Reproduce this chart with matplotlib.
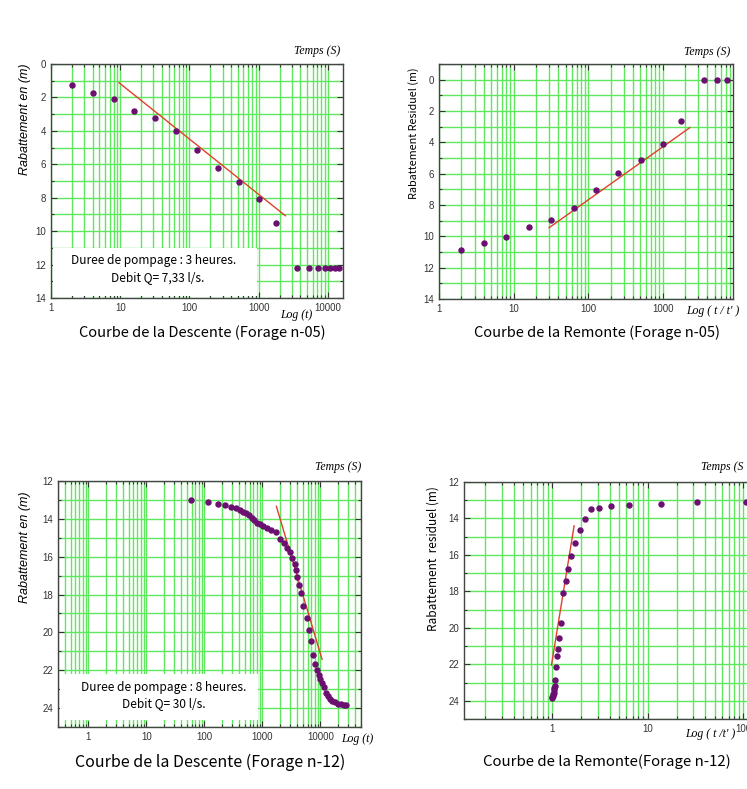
import numpy as np
import matplotlib
matplotlib.use("Agg")
import matplotlib.pyplot as plt
from matplotlib.ticker import LogLocator, FixedLocator, NullFormatter, FuncFormatter, MultipleLocator
from matplotlib.patches import Rectangle

# ---------------- data ----------------
# Panel 1 : Descente forage n-05
t1 = [2, 4, 8, 16, 32, 64, 128, 256, 512, 1024, 1800, 3600, 5400, 7200, 9000, 10800, 12600, 14400]
s1 = [1.25, 1.73, 2.11, 2.79, 3.23, 3.98, 5.14, 6.21, 7.05, 8.07, 9.52, 12.23, 12.23, 12.23, 12.23, 12.23, 12.23, 12.23]
fit1_t = [9.6, 2430]
fit1_s = [1.12, 9.08]

# Panel 2 : Remontee forage n-05
t2 = [2, 4, 8, 16, 32, 64, 128, 256, 512, 1000, 1780, 3600, 5400, 7200]
s2 = [10.89, 10.43, 10.06, 9.38, 8.94, 8.19, 7.04, 5.98, 5.15, 4.11, 2.66, 0.0, 0.0, 0.0]
fit2_t = [30, 2320]
fit2_s = [9.45, 3.06]

# Panel 3 : Descente forage n-12
t3 = [58, 116, 175, 231, 286, 344, 408, 465, 531, 598, 656, 719, 811, 912, 1028, 1203,
      1410, 1740, 2040, 2360, 2660, 2960, 3290, 3600, 3750, 4010, 4340, 4630, 5090,
      5800, 6370, 6890, 7570, 8200, 8750, 9330, 9710, 10470, 11380, 12300, 13330,
      14440, 15850, 17600, 19800, 22300, 25100, 28000]
s3 = [12.99, 13.13, 13.2, 13.29, 13.37, 13.45, 13.52, 13.62, 13.71, 13.82, 13.94, 14.08,
      14.2, 14.29, 14.36, 14.5, 14.61, 14.72, 15.07, 15.26, 15.53, 15.77, 16.09, 16.4,
      16.72, 17.07, 17.5, 17.93, 18.6, 19.23, 19.87, 20.43, 21.17, 21.66, 21.98, 22.23,
      22.44, 22.65, 22.9, 23.18, 23.36, 23.5, 23.6, 23.69, 23.76, 23.8, 23.82, 23.82]
fit3_t = [1740, 10660]
fit3_s = [13.34, 21.42]

# Panel 4 : Remontee forage n-12
t4 = [107, 33, 13.9, 6.38, 4.14, 3.07, 2.58, 2.21, 1.945, 1.74, 1.57, 1.48, 1.39, 1.31,
      1.24, 1.18, 1.155, 1.13, 1.11, 1.08, 1.066, 1.055, 1.045, 1.035, 1.025, 1.015, 1.005, 1.0]
s4 = [13.1, 13.1, 13.2, 13.24, 13.33, 13.41, 13.5, 14.04, 14.65, 15.32, 16.07, 16.78,
      17.42, 18.1, 19.72, 20.58, 21.15, 21.55, 22.15, 22.84, 23.19, 23.28, 23.42, 23.55,
      23.64, 23.72, 23.8, 23.86]
fit4_t = [0.985, 1.70]
fit4_s = [22.05, 14.4]

titles = ["Courbe de la Descente (Forage n-05)", "Courbe de la Remonte (Forage n-05)",
          "Courbe de la Descente (Forage n-12)", "Courbe de la Remonte(Forage n-12)"]
ylabels = ["Rabattement en (m)", "Rabattement Residuel (m)",
           "Rabattement en (m)", "Rabattement  residuel (m)"]
xnotes = ["Log (t)", "Log ( t / t' )", "Log (t)", "Log ( t /t' )"]
box1 = ["Duree de pompage : 3 heures.", "Debit Q= 7,33 l/s."]
box3 = ["Duree de pompage : 8 heures.", "Debit Q= 30 l/s."]

# ---------------- style ----------------
W, H = 747, 789
fig = plt.figure(figsize=(W / 100, H / 100), dpi=100)
GRID = "#5fe85f"
DOT = "#6b0f70"
RED = "#e0402a"
CJK = ["Noto Sans CJK JP", "DejaVu Sans"]
SERIF = "Liberation Serif"


def px_axes(l, t, r, b):
    return fig.add_axes([l / W, 1 - b / H, (r - l) / W, (b - t) / H])


def setup(ax, xlim, ylim, xmajor, ymajor_step=2):
    ax.set_xscale("log")
    ax.set_xlim(*xlim)
    ax.set_ylim(*ylim)
    ax.xaxis.set_major_locator(FixedLocator(xmajor))
    ax.xaxis.set_minor_locator(LogLocator(base=10, subs=np.arange(2, 10), numticks=20))
    ax.xaxis.set_major_formatter(FuncFormatter(lambda v, p: "%g" % v))
    ax.xaxis.set_minor_formatter(NullFormatter())
    ax.yaxis.set_major_locator(MultipleLocator(ymajor_step))
    ax.yaxis.set_minor_locator(MultipleLocator(1))
    ax.grid(True, which="both", axis="both", color=GRID, lw=1.0)
    ax.set_axisbelow(True)
    ax.tick_params(which="both", direction="in", top=True, right=True,
                   labelsize=7, colors="#333333", labelcolor="#333333")
    ax.tick_params(which="major", length=4, width=0.8)
    ax.tick_params(which="minor", length=2.5, width=0.8)
    for sp in ax.spines.values():
        sp.set_color("#444444")
        sp.set_linewidth(1.0)
    for lab in ax.get_xticklabels() + ax.get_yticklabels():
        lab.set_family("Liberation Sans")


def textbox(ax, x0, x1, y0, y1, lines, xc, yc):
    ax.add_patch(Rectangle((x0, y0), x1 - x0, y1 - y0, facecolor="white",
                           edgecolor="none", zorder=1))
    for s, x, y in zip(lines, xc, yc):
        ax.text(x, y, s, ha="center", va="center", fontsize=8.6,
                family=CJK, zorder=3)


MS = 3.6

# ---- Panel 1
ax1 = px_axes(51, 64, 343, 298)
setup(ax1, (1, 16500), (14, 0), [1, 10, 100, 1000, 10000])
ax1.plot(fit1_t, fit1_s, color=RED, lw=1.0, zorder=2)
ax1.plot(t1, s1, "o", color=DOT, ms=MS, zorder=3)
textbox(ax1, 1.08, 950, 11.0, 13.9, box1, (30, 34.4), (11.75, 12.76))

# ---- Panel 2
ax2 = px_axes(439, 64, 733, 299)
setup(ax2, (1, 8800), (14, -1), [1, 10, 100, 1000])
ax2.plot(fit2_t, fit2_s, color=RED, lw=1.0, zorder=2)
ax2.plot(t2, s2, "o", color=DOT, ms=MS, zorder=3)

# ---- Panel 3
ax3 = px_axes(58, 481, 361, 727)
setup(ax3, (0.3, 50000), (25, 12), [1, 10, 100, 1000, 10000])
ax3.plot(fit3_t, fit3_s, color=RED, lw=1.0, zorder=2)
ax3.plot(t3, s3, "o", color=DOT, ms=MS, zorder=3)
textbox(ax3, 0.32, 840, 22.2, 24.65, box3, (20, 20), (22.92, 23.78))

# ---- Panel 4 (extends past the right edge of the figure)
ax4 = px_axes(464, 482, 789, 719)
setup(ax4, (0.12, 300), (25, 12), [1, 10, 100])
ax4.plot(fit4_t, fit4_s, color=RED, lw=1.0, zorder=2)
ax4.plot(t4, s4, "o", color=DOT, ms=MS, zorder=3)

# ---------------- figure texts ----------------
def ftext(x, y, s, **kw):
    fig.text(x / W, 1 - y / H, s, **kw)

# Temps (S)
ftext(340, 51, "Temps (S)", ha="right", va="center", fontsize=8.5, style="italic", family=SERIF)
ftext(730, 52, "Temps (S)", ha="right", va="center", fontsize=8.5, style="italic", family=SERIF)
ftext(361, 467, "Temps (S)", ha="right", va="center", fontsize=8.5, style="italic", family=SERIF)
ftext(701, 467, "Temps (S", ha="left", va="center", fontsize=8.5, style="italic", family=SERIF)

# Log notes
ftext(296, 315, xnotes[0], ha="center", va="center", fontsize=8.5, style="italic", family=SERIF)
ftext(713, 311, xnotes[1], ha="center", va="center", fontsize=8.5, style="italic", family=SERIF)
ftext(357, 739, xnotes[2], ha="center", va="center", fontsize=8.5, style="italic", family=SERIF)
ftext(710, 734, xnotes[3], ha="center", va="center", fontsize=8.5, style="italic", family=SERIF)

# y labels
ftext(25, 119, ylabels[0], ha="center", va="center", rotation=90, fontsize=9,
      style="italic", family="Liberation Sans")
ftext(414, 133, ylabels[1], ha="center", va="center", rotation=90, fontsize=7.8, family=CJK)
ftext(25, 547, ylabels[2], ha="center", va="center", rotation=90, fontsize=9,
      style="italic", family="Liberation Sans")
ftext(433, 559, ylabels[3], ha="center", va="center", rotation=90, fontsize=8.5, family=CJK)

# titles
ftext(202, 333, titles[0], ha="center", va="center", fontsize=10.5, family=CJK)
ftext(597, 333, titles[1], ha="center", va="center", fontsize=10.5, family=CJK)
ftext(210, 762, titles[2], ha="center", va="center", fontsize=11.5, family=CJK)
ftext(607, 762, titles[3], ha="center", va="center", fontsize=10.8, family=CJK)

fig.savefig("out.png", dpi=100)
